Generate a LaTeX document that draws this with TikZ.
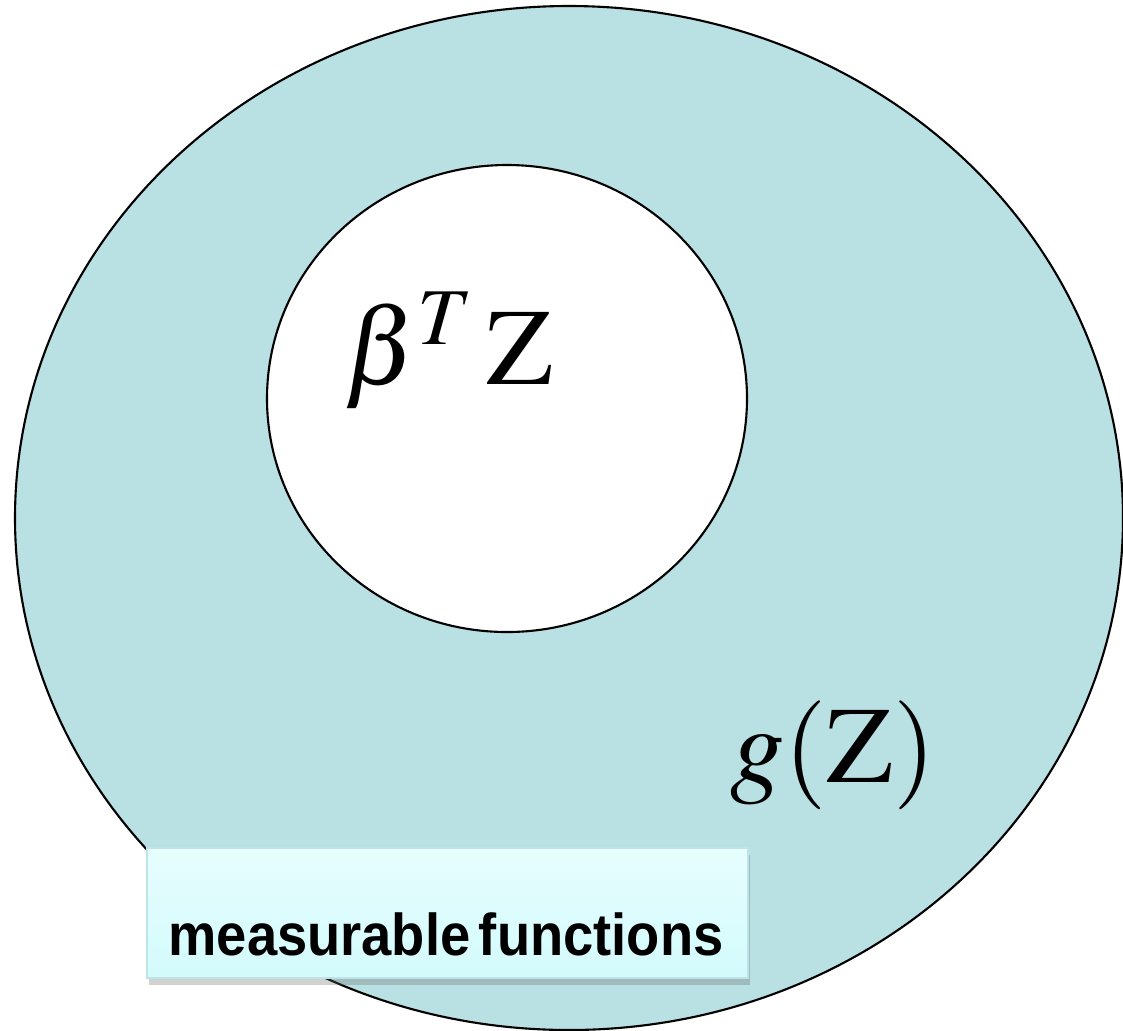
\documentclass[tikz,border=0pt]{standalone}
\usepackage{amsmath}
\usepackage{mathptmx}
\usepackage{fontspec}
\newfontfamily\labelfont{Liberation Sans}
\usepackage{tikz}
\usetikzlibrary{shadows}

\definecolor{setfill}{RGB}{185,224,227}
\definecolor{boxtop}{RGB}{231,253,254}
\definecolor{boxbot}{RGB}{211,251,252}
\definecolor{boxline}{RGB}{190,228,232}

\tikzset{
    setline/.style={line width=0.6pt, draw=black},
    mathlabel/.style={font=\fontsize{31}{36}\selectfont, inner sep=0pt, anchor=base},
    tagbox/.style={draw=boxline, line width=0.5pt, top color=boxtop, bottom color=boxbot,
        drop shadow={shadow xshift=0.2mm, shadow yshift=-0.7mm, opacity=0.3, fill=black!60}}
}

\begin{document}
\begin{tikzpicture}
    \useasboundingbox (0,0) rectangle (11.23,-10.30);

    % 外侧集合 g(Z)
    \draw[setline, fill=setfill] (5.69,-5.18) ellipse [x radius=5.54, y radius=5.12];

    % 内侧集合 beta^T Z
    \draw[setline, fill=white] (5.07,-3.985) ellipse [x radius=2.40, y radius=2.335];

    \node[mathlabel] (lin) at (4.49,-3.84) {$\beta^{T}\,\mathrm{Z}$};
    \node[mathlabel] (gz) at (8.33,-7.82) {$g(\mathrm{Z})$};

    % 标签框
    \node[tagbox, minimum width=6.01cm, minimum height=1.30cm, inner sep=0pt] (tag) at (4.475,-9.13) {};
    \node[font=\labelfont\bfseries\fontsize{16.8}{20}\selectfont, anchor=base, inner sep=0pt,
        xscale=0.92, transform shape] (tagtext) at (4.46,-9.55) {measurable\hspace{-0.12em} functions};
\end{tikzpicture}
\end{document}
